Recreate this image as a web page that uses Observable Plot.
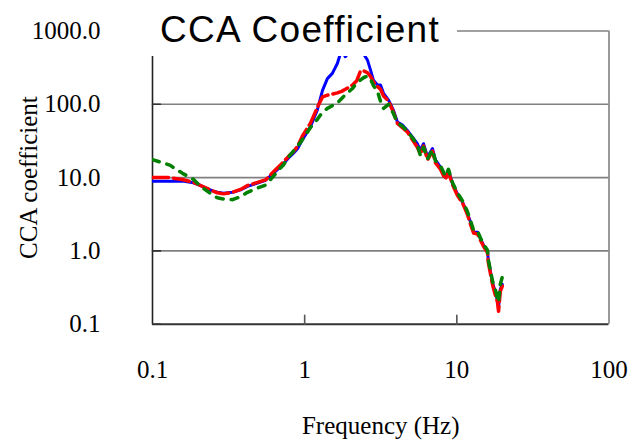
<!DOCTYPE html>
<html>
<head>
<meta charset="utf-8">
<script src="https://cdn.jsdelivr.net/npm/d3@7"></script>
<script src="https://cdn.jsdelivr.net/npm/@observablehq/plot@0.6"></script>
<style>
  html, body { margin: 0; padding: 0; background: #fff; }
  #wrap { position: relative; width: 641px; height: 441px; }
  #title {
    position: absolute; left: 146px; top: 0px; width: 311px; height: 56px;
    background: #fff; box-sizing: border-box; padding: 10.7px 0 0 14px;
    font-family: "Liberation Sans", Arial, sans-serif; font-size: 37px;
    line-height: 37px; letter-spacing: 1.3px; color: #000; white-space: nowrap;
  }
</style>
</head>
<body>
<div id="wrap"><div id="title">CCA Coefficient</div></div>
<script>
const freq  = [0.1, 0.13, 0.157, 0.186, 0.207, 0.248, 0.267, 0.293, 0.336, 0.379, 0.421, 0.49, 0.553, 0.624, 0.693, 0.727, 0.784, 0.844, 0.9, 0.967, 1.09, 1.21, 1.31, 1.41, 1.52, 1.64, 1.75, 1.85, 2.06, 2.2, 2.33, 2.45, 2.59, 2.71, 2.83, 3.01, 3.15, 3.30, 3.56, 3.83, 4.07, 4.39, 4.73, 5.10, 5.50, 5.76, 6.04, 6.42, 6.92, 7.23, 7.80, 8.41, 8.81, 9.36, 10.1, 10.9, 11.7, 12.3, 12.9, 13.7, 14.3, 15.0, 15.9, 16.1, 16.6, 17.2, 17.9, 18.5, 18.8, 19.3, 19.9];
const blue  = [8.9, 8.9, 9.0, 8.5, 7.8, 6.6, 6.3, 6.1, 6.3, 6.8, 7.6, 8.4, 9.2, 11.5, 14.0, 15.6, 18.5, 21.5, 25, 33, 49, 83, 155, 224, 264, 360, 560, 445, 600, 560, 540, 480, 398, 292, 214, 183, 183, 141, 114, 83, 57.5, 52, 44, 36, 29, 23.6, 29, 19.2, 24.9, 17.4, 13.9, 10.1, 12.5, 8.3, 6.0, 4.65, 3.3, 2.47, 1.8, 1.8, 1.47, 1.19, 1.0, 0.74, 0.54, 0.36, 0.28, 0.21, 0.17, 0.3, 0.35];
const red   = [10.0, 10.0, 9.4, 8.6, 7.8, 6.6, 6.2, 6.0, 6.3, 6.9, 7.8, 8.6, 9.3, 12.0, 14.8, 16.5, 19.5, 22.5, 27, 37, 55, 90, 126, 133, 138, 143, 150, 160, 183, 210, 286, 285, 269, 240, 202, 175, 160, 130, 110, 78, 55, 48, 42, 33, 26, 21, 27, 17.5, 23, 16, 13, 9.5, 12, 8.0, 5.7, 4.5, 3.2, 2.3, 1.75, 1.7, 1.4, 1.15, 0.95, 0.7, 0.5, 0.34, 0.25, 0.2, 0.15, 0.28, 0.33];
const green = [17.6, 14.8, 11.5, 9.4, 7.6, 5.8, 5.3, 5.1, 5.0, 5.5, 6.3, 7.2, 7.9, 10.5, 13.5, 15.0, 19.2, 23.0, 27, 33, 48, 62, 78, 88, 96, 104, 120, 135, 164, 195, 215, 232, 242, 220, 180, 150, 110, 88, 100, 75, 56, 50, 43, 35, 28, 20, 26, 18, 24, 17, 14.5, 10.5, 13, 8.6, 6.2, 4.8, 3.5, 2.6, 1.9, 1.85, 1.5, 1.22, 1.02, 0.76, 0.55, 0.38, 0.3, 0.22, 0.2, 0.35, 0.44];
const xTicks = [0.1, 1, 10, 100];
const yTicks = [0.1, 1, 10, 100, 1000];
const xTickLabels = ["0.1", "1", "10", "100"];
const yTickLabels = ["0.1", "1.0", "10.0", "100.0", "1000.0"];
const xTitle = "Frequency (Hz)";
const yTitle = "CCA coefficient";

const series = (vals) => freq.map((f, i) => ({f, v: vals[i]}));
const serif = "'Liberation Serif', 'Times New Roman', serif";
const xMin = xTicks[0], xMax = xTicks[xTicks.length - 1];
const yMin = yTicks[0], yMax = yTicks[yTicks.length - 1];

const chart = Plot.plot({
  width: 641,
  height: 441,
  marginLeft: 152,
  marginRight: 32.5,
  marginTop: 30.5,
  marginBottom: 117.3,
  style: {fontFamily: serif, fontSize: "25px", background: "#fff", color: "#000"},
  x: {type: "log", domain: [xMin, xMax], axis: null},
  y: {type: "log", domain: [yMin, yMax], axis: null},
  marks: [
    Plot.ruleY(yTicks.slice(1), {stroke: "#808080", strokeWidth: 1.6}),
    Plot.ruleX([xMax], {stroke: "#808080", strokeWidth: 1.6}),
    Plot.ruleY([yMin], {stroke: "#333", strokeWidth: 2}),
    Plot.ruleX([xMin], {stroke: "#222", strokeWidth: 1.6}),
    Plot.vector(xTicks.slice(1, -1), {x: d => d, y: yMin, length: 9, anchor: "start", shape: "spike", r: 0, stroke: "#555", strokeWidth: 1.6}),
    Plot.vector(yTicks, {x: xMin, y: d => d, length: 8, rotate: 90, anchor: "start", shape: "spike", r: 0, stroke: "#333", strokeWidth: 1.6}),
    Plot.text(xTicks, {x: d => d, y: yMin, text: (d, i) => xTickLabels[i], dy: 46, fontSize: 25, fontFamily: serif, fill: "#000"}),
    Plot.text(yTicks, {x: xMin, y: d => d, text: (d, i) => yTickLabels[i], dx: -52, textAnchor: "end", fontSize: 25, fontFamily: serif, fill: "#000"}),
    Plot.line(series(blue), {x: "f", y: "v", stroke: "#0000ff", strokeWidth: 3, clip: true}),
    Plot.line(series(red), {x: "f", y: "v", stroke: "#ff0000", strokeWidth: 3.5, strokeDasharray: "16,5", clip: true}),
    Plot.line(series(green), {x: "f", y: "v", stroke: "#008000", strokeWidth: 3.5, strokeDasharray: "7,8", clip: true}),
    Plot.text([xTitle], {frameAnchor: "bottom", dy: 110, fontSize: 25, fontFamily: serif, fill: "#000"}),
    Plot.text([yTitle], {frameAnchor: "left", dx: -124, rotate: -90, textAnchor: "middle", fontSize: 25, fontFamily: serif, fill: "#000"})
  ]
});
document.getElementById("wrap").prepend(chart);
</script>
</body>
</html>
